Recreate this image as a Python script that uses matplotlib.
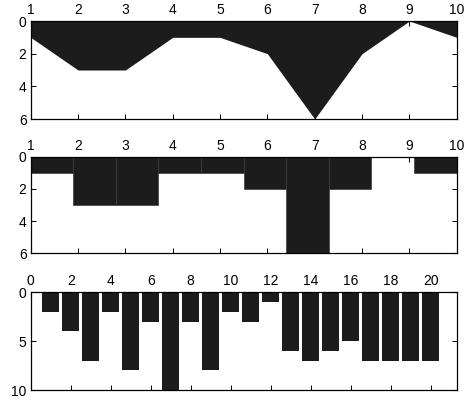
import matplotlib
matplotlib.use('Agg')
import matplotlib.pyplot as plt
import numpy as np

plt.rcParams['font.family'] = ['Liberation Sans', 'DejaVu Sans']
plt.rcParams['font.size'] = 10

x = [1, 2, 3, 4, 5, 6, 7, 8, 9, 10]
y = [1, 3, 3, 1, 1, 2, 6, 2, 0, 1]

x3 = list(range(1, 21))
y3 = [2, 4, 7, 2, 8, 3, 10, 3, 8, 2, 3, 1, 6, 7, 6, 5, 7, 7, 7, 7]

dark = '#1c1c1c'

fig = plt.figure(figsize=(4.7, 4.08), dpi=100)
ax1 = fig.add_axes([0.0653, 0.7083, 0.9064, 0.2402])
ax2 = fig.add_axes([0.0653, 0.379, 0.9064, 0.237])
ax3 = fig.add_axes([0.0653, 0.0441, 0.9064, 0.2395])

# area
ax1.fill_between(x, 0, y, color=dark, linewidth=0)
ax1.set_xlim(1, 10)
ax1.set_ylim(6, 0)
ax1.set_xticks(x)
ax1.set_yticks([0, 2, 4, 6])

# histogram style bars over the same data
edges = np.linspace(1, 10, len(y) + 1)
ax2.bar(edges[:-1], y, width=np.diff(edges), align='edge', color=dark,
        edgecolor='#3a3a3a', linewidth=0.5)
ax2.set_xlim(1, 10)
ax2.set_ylim(6, 0)
ax2.set_xticks(x)
ax2.set_yticks([0, 2, 4, 6])

# bars
ax3.bar(x3, y3, width=0.86, color=dark, linewidth=0)
ax3.set_xlim(0, 21.3)
ax3.set_ylim(10, 0)
ax3.set_xticks(range(0, 21, 2))
ax3.set_yticks([0, 5, 10])

for ax in (ax1, ax2, ax3):
    ax.set_axisbelow(True)
    ax.xaxis.tick_top()
    ax.tick_params(direction='in', top=True, bottom=True, left=True, right=True,
                   labeltop=True, labelbottom=False, length=3.5, width=0.75,
                   pad=3, labelsize=10)
    for s in ax.spines.values():
        s.set_linewidth(0.9)

plt.savefig('out.png', dpi=100)
